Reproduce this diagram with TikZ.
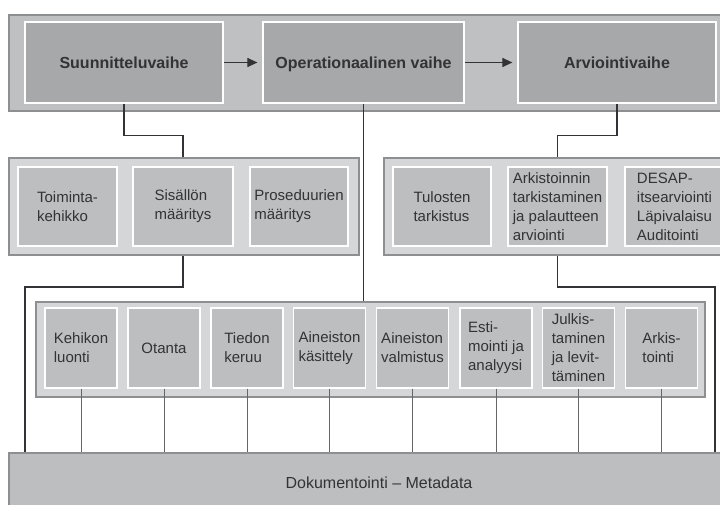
\documentclass[tikz,border=0pt]{standalone}
\usepackage{fontspec}
\setmainfont{Liberation Sans}
\usepackage{xcolor}
\usepackage{tikz}
\usetikzlibrary{arrows.meta}

\definecolor{bandgray}{HTML}{BFC0C2}
\definecolor{phasegray}{HTML}{A7A8AA}
\definecolor{framegray}{HTML}{D5D6D8}
\definecolor{boxgray}{HTML}{BDBEC0}
\definecolor{edgegray}{HTML}{8E8F91}
\definecolor{inkgray}{HTML}{333335}

\begin{document}
\begin{tikzpicture}
    [x=1pt, y=-1pt,
    frame/.style = {draw=edgegray, line width=1.4pt, fill=framegray,
                    inner sep=0pt},
    phase/.style = {draw=white, line width=1.2pt, fill=phasegray,
                    minimum height=81pt, text=inkgray,
                    text height=11.5pt, text depth=0pt,
                    font=\bfseries\fontsize{16}{19}\selectfont},
    task/.style = {draw=white, line width=1.2pt, fill=boxgray,
                   align=left, text=inkgray, inner sep=2pt,
                   font=\fontsize{15}{19}\selectfont},
    link/.style = {draw=inkgray, line width=1.1pt},
    leg/.style = {draw=black!60, line width=0.9pt}]
    \useasboundingbox (0,0) rectangle (720,505);
    \clip (0,0) rectangle (720,505);
    % Vaiheet
    \node[frame, fill=bandgray, minimum width=731pt, minimum height=96pt] (band) at (374.5,63) {};
    \node[phase, minimum width=198pt] (plan) at (124,62.5) {Suunnitteluvaihe};
    \node[phase, minimum width=201pt] (oper) at (363.5,62.5) {Operationaalinen vaihe};
    \node[phase, minimum width=198pt] (eval) at (617,62.5) {Arviointivaihe};
    \draw[link, -{Triangle[length=10pt,width=9pt]}, shorten >=5pt] (plan) -- (oper);
    \draw[link, -{Triangle[length=10pt,width=9pt]}, shorten >=5pt] (oper) -- (eval);
    % Suunnittelu
    \node[frame, minimum width=350pt, minimum height=97pt] (lframe) at (184,206.5) {};
    \node[task, minimum width=99pt, minimum height=79pt] (frm) at (67.5,206.5) {Toiminta-\\kehikko};
    \node[task, minimum width=100pt, minimum height=79pt] (cont) at (183,206.5) {Sisällön\\määritys};
    \node[task, minimum width=98pt, minimum height=79pt] (proc) at (299,206.5) {Proseduurien\\määritys};
    % Arviointi
    \node[frame, minimum width=360pt, minimum height=97pt] (rframe) at (564,206.5) {};
    \node[task, minimum width=98pt, minimum height=79pt] (res) at (442,206.5) {Tulosten\\tarkistus};
    \node[task, minimum width=99pt, minimum height=79pt] (arch) at (557.5,206.5) {Arkistoinnin\\tarkistaminen\\ja palautteen\\arviointi};
    \node[task, minimum width=99pt, minimum height=79pt] (desap) at (674.5,206.5) {DESAP-\\itsearviointi\\Läpivalaisu\\Auditointi};
    % Toteutus
    \node[frame, minimum width=669pt, minimum height=95pt] (exec) at (370.5,349.5) {};
    \node[task, minimum width=72pt, minimum height=80pt] (t1) at (81,348) {Kehikon\\luonti};
    \node[task, minimum width=72pt, minimum height=80pt] (t2) at (164,348) {Otanta};
    \node[task, minimum width=72pt, minimum height=80pt] (t3) at (247,348) {Tiedon\\keruu};
    \node[task, minimum width=72pt, minimum height=80pt] (t4) at (329.5,348) {Aineiston\\käsittely};
    \node[task, minimum width=72pt, minimum height=80pt] (t5) at (412.5,348) {Aineiston\\valmistus};
    \node[task, minimum width=72pt, minimum height=80pt] (t6) at (496,348) {Esti-\\mointi ja\\analyysi};
    \node[task, minimum width=72pt, minimum height=80pt] (t7) at (578.5,348) {Julkis-\\taminen\\ja levit-\\täminen};
    \node[task, minimum width=72pt, minimum height=80pt] (t8) at (661.5,348) {Arkis-\\tointi};
    % Dokumentointi
    \node[frame, fill=boxgray, minimum width=740pt, minimum height=60pt, text=inkgray,
          font=\fontsize{16}{19}\selectfont] (doc) at (379,483) {Dokumentointi -- Metadata};
    % Yhteydet
    \coordinate (lleg) at (25,287);
    \coordinate (rleg) at (715,287);
    \draw[link] (plan.south) -- ++(0,32) -| (cont |- lframe.north);
    \draw[link] (eval.south) -- ++(0,32) -| (arch |- rframe.north);
    \draw[link] (oper.south) -- (oper.south |- exec.north);
    \draw[link] (cont |- lframe.south) |- (lleg) -- (lleg |- doc.north);
    \draw[link] (arch |- rframe.south) |- (rleg) -- (rleg |- doc.north);
    \draw[leg] (t1.south) -- (t1.south |- doc.north);
    \draw[leg] (t2.south) -- (t2.south |- doc.north);
    \draw[leg] (t3.south) -- (t3.south |- doc.north);
    \draw[leg] (t4.south) -- (t4.south |- doc.north);
    \draw[leg] (t5.south) -- (t5.south |- doc.north);
    \draw[leg] (t6.south) -- (t6.south |- doc.north);
    \draw[leg] (t7.south) -- (t7.south |- doc.north);
    \draw[leg] (t8.south) -- (t8.south |- doc.north);
\end{tikzpicture}
\end{document}
